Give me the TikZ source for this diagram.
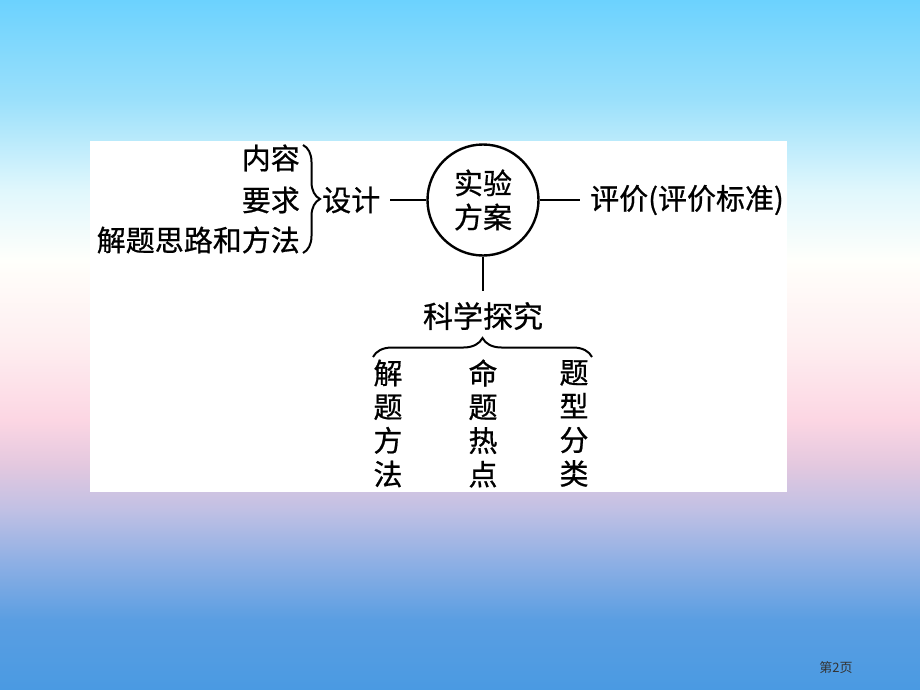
\documentclass[tikz,border=0pt]{standalone}
\usepackage{fontspec}
\setmainfont{Noto Sans CJK SC}[FakeBold=0.7]
\newfontfamily\pagefont{Noto Sans CJK SC}
\usetikzlibrary{decorations.pathreplacing}
\definecolor{c0}{HTML}{6CD2FE}
\definecolor{c1}{HTML}{9BE0FB}
\definecolor{c2}{HTML}{E0F7FC}
\definecolor{c3}{HTML}{FFFFFB}
\definecolor{c4}{HTML}{FEEEF0}
\definecolor{c5}{HTML}{FCD6E3}
\definecolor{c6}{HTML}{E3C8DF}
\definecolor{c7}{HTML}{C0C0E4}
\definecolor{c8}{HTML}{90B0E4}
\definecolor{c9}{HTML}{5A9EE2}
\definecolor{c10}{HTML}{4A9AE2}
\begin{document}
\begin{tikzpicture}[x=1pt,y=-1pt,
  txt/.style={font=\fontsize{29}{29}\selectfont, inner sep=0pt},
  coltxt/.style={font=\fontsize{29}{33.7}\selectfont, inner sep=0pt, align=center},
  conn/.style={line width=2.4pt},
  bracestyle/.style={line width=2pt, decorate}]
\useasboundingbox (0,0) rectangle (920,690);
% background gradient
\shade[top color=c0, bottom color=c1] (0,0) rectangle (920,100.5);
\shade[top color=c1, bottom color=c2] (0,100) rectangle (920,190.5);
\shade[top color=c2, bottom color=c3] (0,190) rectangle (920,260.5);
\shade[top color=c3, bottom color=c4] (0,260) rectangle (920,345.5);
\shade[top color=c4, bottom color=c5] (0,345) rectangle (920,420.5);
\shade[top color=c5, bottom color=c6] (0,420) rectangle (920,465.5);
\shade[top color=c6, bottom color=c7] (0,465) rectangle (920,510.5);
\shade[top color=c7, bottom color=c8] (0,510) rectangle (920,560.5);
\shade[top color=c8, bottom color=c9] (0,560) rectangle (920,620.5);
\shade[top color=c9, bottom color=c10] (0,620) rectangle (920,690);
% white panel
\fill[white] (90,141) rectangle (787,492);
% left items
\node[txt, anchor=east] (neirong) at (300,158) {内容};
\node[txt, anchor=east] (yaoqiu) at (300,200) {要求};
\node[txt, anchor=east] (silu) at (300,240) {解题思路和方法};
\draw[bracestyle, decoration={brace, amplitude=17pt}] (303,145) -- (303,253);
\node[txt, anchor=west] (sheji) at (322,200) {设计};
% centre
\node[draw, circle, line width=2.4pt, minimum size=111pt, inner sep=0pt,
      font=\fontsize{29}{34}\selectfont, align=center] (fangan) at (483,200) {实验\\方案};
\node[txt, anchor=west] (pingjia) at (590,200) {评价(评价标准)};
\node[txt, font=\fontsize{30}{30}\selectfont] (kexue) at (483,316) {科学探究};
\draw[conn] ([xshift=10pt]sheji.east) -- (fangan.west);
\draw[conn] (fangan.east) -- ([xshift=-10pt]pingjia.west);
\draw[conn] (fangan.south) -- ([yshift=11pt]kexue.north);
% bottom brace and columns
\draw[bracestyle, decoration={brace, amplitude=19pt}] (373,357) -- (592,357);
\node[coltxt] (fangfa) at (388,423.5) {解\\题\\方\\法};
\node[coltxt] (redian) at (483,423.5) {命\\题\\热\\点};
\node[coltxt] (fenlei) at (574,423.5) {题\\型\\分\\类};
% page number
\node[font=\pagefont\fontsize{13}{13}\selectfont, text=black!80, inner sep=0pt] (page) at (836,668) {第2页};
\end{tikzpicture}
\end{document}
